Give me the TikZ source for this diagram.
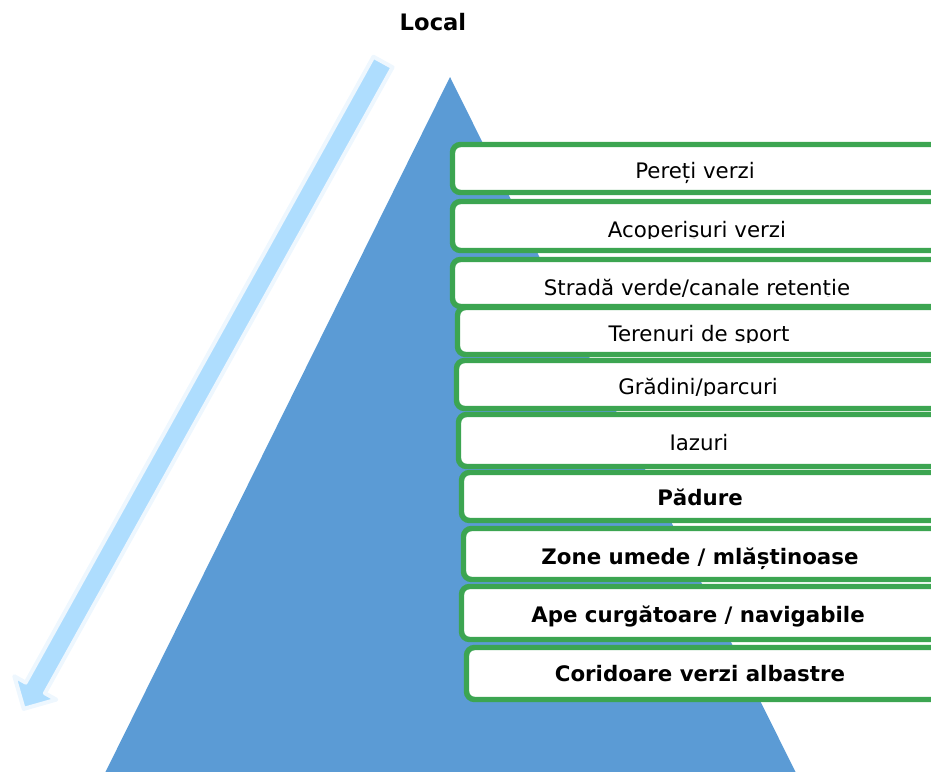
\documentclass[tikz,border=0pt]{standalone}
\usepackage{fontspec}
\setmainfont{DejaVu Sans}
\usepackage{xcolor}
\definecolor{pyramidblue}{HTML}{5B9BD5}
\definecolor{arrowblue}{HTML}{AEDDFE}
\definecolor{arrowedge}{HTML}{EEF7FE}
\definecolor{boxgreen}{HTML}{3CA551}
\tikzset{
  greenbox/.style={draw=boxgreen, line width=4.1pt, fill=white, rounded corners=6pt},
  lbl/.style={anchor=base, inner sep=0pt, font=\fontsize{16}{19}\selectfont},
  lblbold/.style={lbl, font=\fontsize{16}{19}\selectfont\bfseries}
}

\begin{document}
\begin{tikzpicture}[x=0.75pt,y=-0.75pt]
\useasboundingbox (0,0) rectangle (931,771);
\clip (0,0) rectangle (931,771);
% pyramid
\coordinate (apex) at (450,77);
\coordinate (baseL) at (101.5,780);
\coordinate (baseR) at (799.5,780);
\fill[pyramidblue] (apex) -- (baseR) -- (baseL) -- cycle;
% scale arrow
\filldraw[fill=arrowblue, draw=arrowedge, line width=3pt, line join=round]
(373.4,56.7) -- (392.6,67.3) -- (44.9,693.2) -- (56.3,699.6) -- (23.7,708.9) -- (14.3,676.2) -- (25.7,682.6) -- cycle;
\node[lblbold, font=\fontsize{17}{20}\selectfont\bfseries] (local) at (433,31) {Local};
% levels
\draw[greenbox] (452.5,144.5) rectangle (945,192.5);
\node[lbl] (pereti) at (695,178) {Pereți verzi};
\draw[greenbox] (452.5,201.5) rectangle (945,250.5);
\begin{scope}
\clip (440,200) rectangle (931,238);
\node[lbl] (acoperisuri) at (697,237) {Acoperișuri verzi};
\end{scope}
\draw[greenbox] (452.5,259.5) rectangle (945,306.5);
\begin{scope}
\clip (440,258) rectangle (931,296);
\node[lbl] (strada) at (697,295) {Stradă verde/canale retenție};
\end{scope}
\draw[greenbox] (457.5,307.5) rectangle (945,354.5);
\begin{scope}
\clip (440,306) rectangle (931,342);
\node[lbl] (terenuri) at (699,341) {Terenuri de sport};
\end{scope}
\draw[greenbox] (456.5,360.5) rectangle (945,408.5);
\begin{scope}
\clip (440,359) rectangle (931,395);
\node[lbl] (gradini) at (698,394) {Grădini/parcuri};
\end{scope}
\draw[greenbox] (458.5,414.5) rectangle (945,466.5);
\node[lbl] (iazuri) at (699,450) {Iazuri};
\draw[greenbox] (461.5,472.5) rectangle (945,520.5);
\node[lblbold] (padure) at (700,505) {Pădure};
\draw[greenbox] (463.5,528.5) rectangle (945,579.5);
\node[lblbold] (zone) at (700,564) {Zone umede / mlăștinoase};
\draw[greenbox] (461.5,586.5) rectangle (945,639.5);
\node[lblbold] (ape) at (698,622) {Ape curgătoare / navigabile};
\draw[greenbox] (466.5,647.5) rectangle (945,699.5);
\node[lblbold] (coridoare) at (700,681) {Coridoare verzi albastre};
\end{tikzpicture}
\end{document}
